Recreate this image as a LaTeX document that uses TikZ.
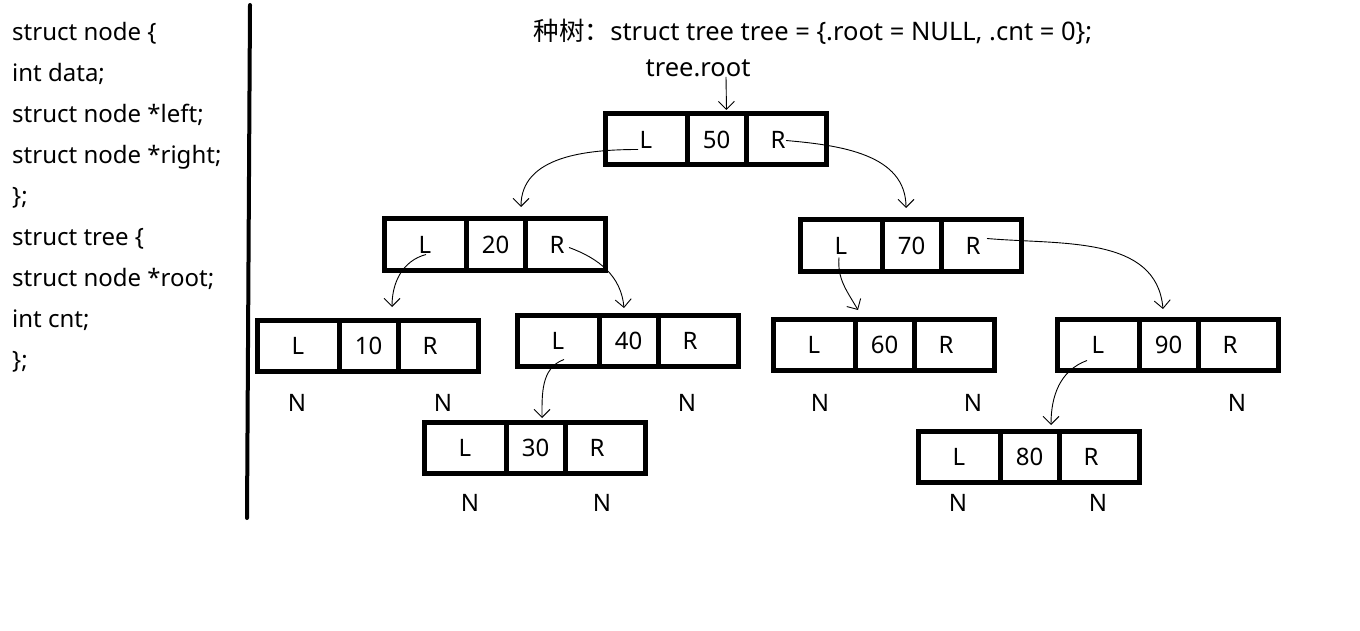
\documentclass[tikz,border=0pt]{standalone}
\usepackage{fontspec}
\setmainfont{Noto Sans}
\newfontfamily\cjkfont{Noto Sans CJK SC}
\usetikzlibrary{arrows.meta,positioning}
\tikzset{
    cell/.style={
        draw,
        rectangle,
        line width=5pt,
        minimum height=51pt,
        inner sep=0pt,
        outer sep=0pt,
        font=\fontsize{24}{28}\selectfont
    },
    lcell/.style={cell, minimum width=82pt, anchor=north west},
    dcell/.style={cell, minimum width=59pt},
    rcell/.style={cell, minimum width=80pt, execute at end node={\hspace*{16pt}}},
    nil/.style={font=\fontsize{24}{28}\selectfont, inner sep=0pt},
    code/.style={font=\fontsize{24}{41}\selectfont, align=left, inner sep=0pt},
    ptr/.style={
        -{Straight Barb[length=8pt,width=16pt]},
        line width=0.9pt
    }
}
\begin{document}
\begin{tikzpicture}[x=1pt, y=-1pt]
    \useasboundingbox (0,0) rectangle (1360,631);

    % declarations
    \node[code, anchor=north west] (decl) at (12,22) {struct node \{\\
        int data;\\
        struct node *left;\\
        struct node *right;\\
        \};\\
        struct tree \{\\
        struct node *root;\\
        int cnt;\\
        \};};
    \draw[line width=4pt, line cap=round] (250,5) -- (247,518);

    % title
    \node[nil, font=\fontsize{25.5}{30}\selectfont] (title) at (813,32) {{\cjkfont 种树：}struct tree tree = \{.root = NULL, .cnt = 0\};};
    \node[nil, font=\fontsize{25.5}{30}\selectfont] (troot) at (698,68) {tree.root};

    % level 0
    \node[lcell] (n50l) at (605,114) {L};
    \node[dcell, right=0pt of n50l] (n50d) {50};
    \node[rcell, right=0pt of n50d] (n50r) {R};

    % level 1
    \node[lcell] (n20l) at (384,219) {L};
    \node[dcell, right=0pt of n20l] (n20d) {20};
    \node[rcell, right=0pt of n20d] (n20r) {R};

    \node[lcell] (n70l) at (800,220) {L};
    \node[dcell, right=0pt of n70l] (n70d) {70};
    \node[rcell, right=0pt of n70d] (n70r) {R};

    % level 2
    \node[lcell] (n10l) at (257,320) {L};
    \node[dcell, right=0pt of n10l] (n10d) {10};
    \node[rcell, right=0pt of n10d] (n10r) {R};

    \node[lcell] (n40l) at (517,315) {L};
    \node[dcell, right=0pt of n40l] (n40d) {40};
    \node[rcell, right=0pt of n40d] (n40r) {R};

    \node[lcell] (n60l) at (773,319) {L};
    \node[dcell, right=0pt of n60l] (n60d) {60};
    \node[rcell, right=0pt of n60d] (n60r) {R};

    \node[lcell] (n90l) at (1057,319) {L};
    \node[dcell, right=0pt of n90l] (n90d) {90};
    \node[rcell, right=0pt of n90d] (n90r) {R};

    % level 3
    \node[lcell] (n30l) at (424,422) {L};
    \node[dcell, right=0pt of n30l] (n30d) {30};
    \node[rcell, right=0pt of n30d] (n30r) {R};

    \node[lcell] (n80l) at (918,431) {L};
    \node[dcell, right=0pt of n80l] (n80d) {80};
    \node[rcell, right=0pt of n80d] (n80r) {R};

    % null pointers
    \node[nil] (n10nl) at (297,403) {N};
    \node[nil] (n10nr) at (443,403) {N};
    \node[nil] (n40nr) at (687,403) {N};
    \node[nil] (n30nl) at (470,503) {N};
    \node[nil] (n30nr) at (602,503) {N};
    \node[nil] (n60nl) at (820,403) {N};
    \node[nil] (n60nr) at (973,403) {N};
    \node[nil] (n90nr) at (1237,403) {N};
    \node[nil] (n80nl) at (958,503) {N};
    \node[nil] (n80nr) at (1098,503) {N};

    % pointers
    \draw[ptr] ([xshift=28pt]troot.south) -- ([shift={(10,-4)}]n50d.north);
    \draw[ptr] ([shift={(-8,10)}]n50l.center) to[out=180, in=90] ([shift={(25.5,-12)}]n20d.north);
    \draw[ptr] ([shift={(0,1)}]n50r.center) to[out=-5, in=90] ([shift={(-5.5,-12)}]n70d.north);
    \draw[ptr] ([shift={(1,10)}]n20l.center) to[out=195, in=90] ([shift={(23.5,-13)}]n10d.north);
    \draw[ptr] ([shift={(4,3)}]n20r.center) to[out=-20, in=95] ([shift={(-4.5,-7)}]n40d.north);
    \draw[ptr] ([shift={(6,19)}]n40l.center) to[out=200, in=90] ([shift={(6.5,-4)}]n30d.north);
    \draw[ptr] ([shift={(-2,12)}]n70l.center) to[out=-95, in=120] ([shift={(-26.5,-9)}]n60d.north);
    \draw[ptr] ([shift={(6,-7)}]n70r.center) to[out=-5, in=95] ([shift={(-5.5,-10)}]n90d.north);
    \draw[ptr] ([shift={(-11,16)}]n90l.center) to[out=200, in=90] ([shift={(21.5,-6)}]n80d.north);
\end{tikzpicture}
\end{document}
